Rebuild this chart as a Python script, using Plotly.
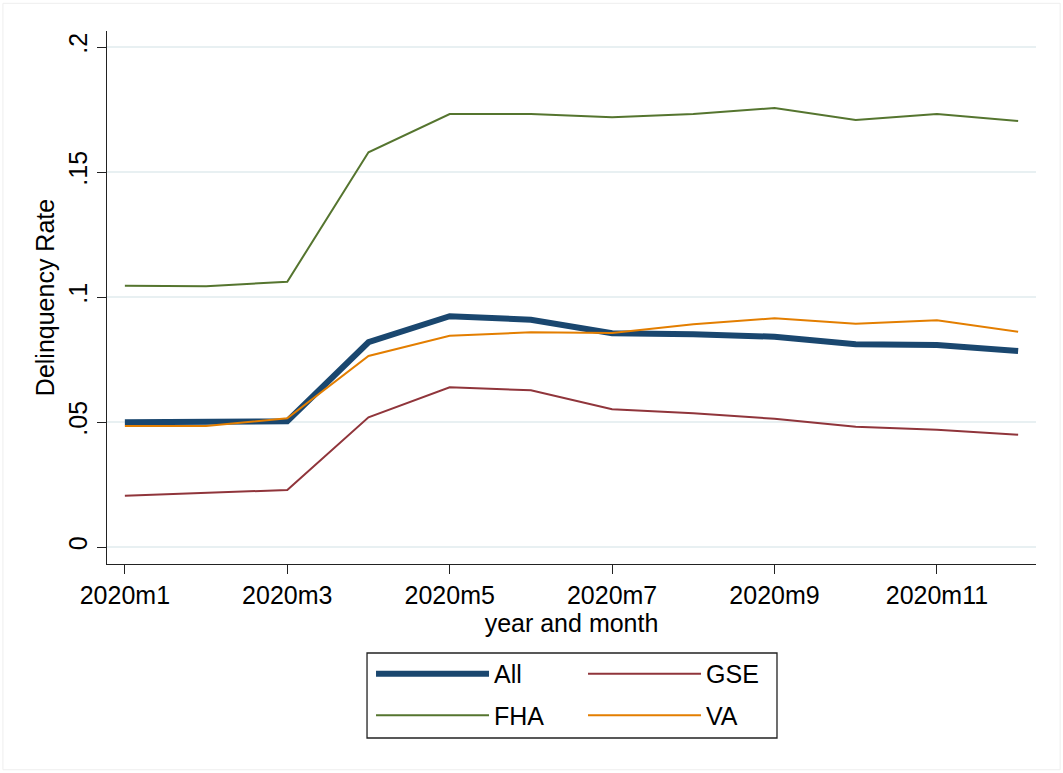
import plotly.graph_objects as go

months = ["2020m1", "2020m2", "2020m3", "2020m4", "2020m5", "2020m6",
          "2020m7", "2020m8", "2020m9", "2020m10", "2020m11", "2020m12"]
tick_months = ["2020m1", "2020m3", "2020m5", "2020m7", "2020m9", "2020m11"]

all_rate = [0.0499, 0.0500, 0.0503, 0.0819, 0.0923, 0.0909, 0.0855, 0.0851, 0.0841, 0.0811, 0.0808, 0.0784]
gse_rate = [0.0205, 0.0216, 0.0228, 0.0519, 0.0639, 0.0627, 0.0551, 0.0535, 0.0513, 0.0481, 0.0469, 0.0449]
fha_rate = [0.1045, 0.1043, 0.1061, 0.1579, 0.1732, 0.1732, 0.1719, 0.1732, 0.1756, 0.1708, 0.1732, 0.1704]
va_rate = [0.0484, 0.0484, 0.0515, 0.0764, 0.0845, 0.0859, 0.0856, 0.0891, 0.0915, 0.0893, 0.0907, 0.0861]

y_ticks = [0, 0.05, 0.1, 0.15, 0.2]
y_ticktext = ["0", ".05", ".1", ".15", ".2"]

FONT = "Liberation Sans, Arial, Helvetica, sans-serif"

# (name, values, colour, width, legend column)
series = [
    ("All", all_rate, "#1a476f", 6, "legend"),
    ("GSE", gse_rate, "#90353b", 2, "legend2"),
    ("FHA", fha_rate, "#55752f", 2, "legend"),
    ("VA", va_rate, "#e37e00", 2, "legend2"),
]

fig = go.Figure()
for name, vals, color, w, lg in series:
    fig.add_trace(go.Scatter(x=months, y=vals, mode="lines", name=name,
                             legend=lg, legendgroup=name,
                             line=dict(color=color, width=w)))

legend_common = dict(
    orientation="v", yanchor="top", xanchor="left",
    borderwidth=0, bgcolor="rgba(0,0,0,0)",
    itemwidth=113, tracegroupgap=6,
    font=dict(family=FONT, size=25, color="black"),
    traceorder="grouped",
)

fig.update_layout(
    width=1063, height=773,
    margin=dict(l=107, r=27, t=31, b=209, autoexpand=False),
    paper_bgcolor="white", plot_bgcolor="white",
    font=dict(family=FONT, size=25, color="black"),
    showlegend=True,
    legend=dict(x=0.2842, y=-0.1632, **legend_common),
    legend2=dict(x=0.5124, y=-0.1632, **legend_common),
    shapes=[
        dict(type="rect", xref="paper", yref="paper",
             x0=-0.112, x1=1.026, y0=-0.386, y1=1.052,
             line=dict(color="#eeeeee", width=1), layer="below"),
        dict(type="rect", xref="paper", yref="paper",
             x0=0.2799, x1=0.7212, y0=-0.3265, y1=-0.1670,
             line=dict(color="#222222", width=1.3), layer="below"),
    ],
)

fig.update_xaxes(
    type="category", range=[-0.22, 11.22], automargin=False,
    tickmode="array", tickvals=tick_months, ticktext=tick_months,
    ticks="outside", ticklen=9, tickwidth=1.2, tickcolor="#222222",
    showline=True, linecolor="#222222", linewidth=1.4,
    showgrid=False, zeroline=False,
    title=dict(text="year and month", standoff=2, font=dict(size=25)),
    tickfont=dict(size=25),
)
fig.update_yaxes(
    range=[-0.0068, 0.2064], automargin=False,
    tickmode="array", tickvals=y_ticks, ticktext=y_ticktext,
    tickangle=-90,
    ticks="outside", ticklen=9, tickwidth=1.2, tickcolor="#222222",
    showline=True, linecolor="#222222", linewidth=1.4,
    showgrid=True, gridcolor="#e8f0f2", gridwidth=1.5, zeroline=False,
    title=dict(text="Delinquency Rate", standoff=2, font=dict(size=25)),
    tickfont=dict(size=25),
)

fig.write_html("out.html",
               config={"displayModeBar": False},
               post_script="document.body.style.margin='0';document.body.style.overflow='hidden';")
